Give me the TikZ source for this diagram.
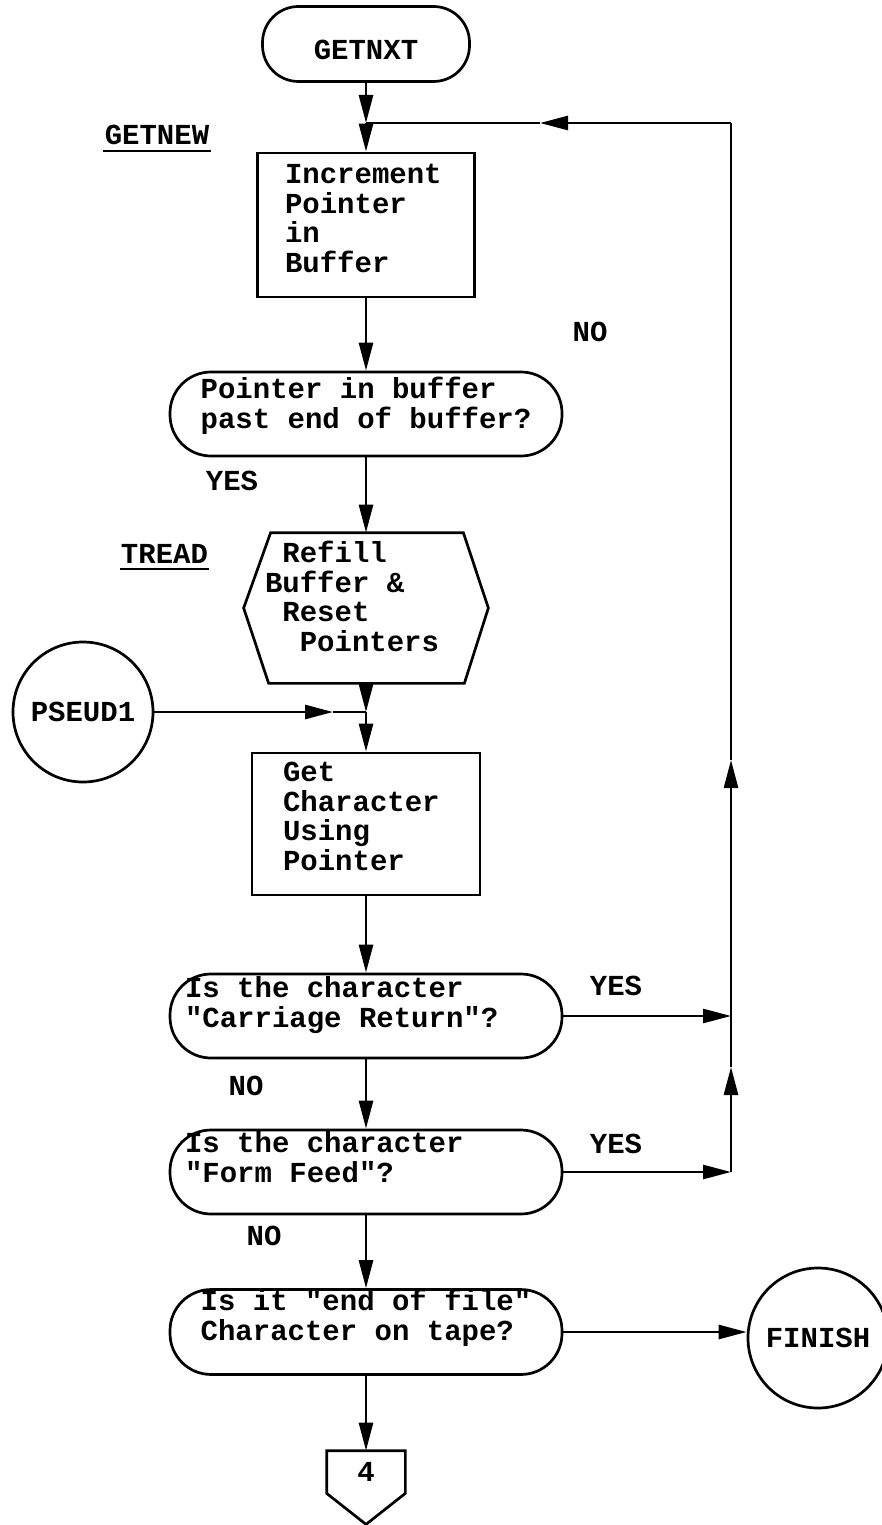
\documentclass[tikz,border=0pt]{standalone}
\usepackage{fontspec}
\newfontfamily\tw{Liberation Mono}[WordSpace={1,0,0}]
\newcommand\fixsp{\spaceskip=0pt\xspaceskip=0pt\relax}
\usetikzlibrary{arrows.meta,calc}
\begin{document}
\begin{tikzpicture}[x=1pt,y=-1pt,
  line width=2.7pt, line join=miter,
  font=\tw\fontsize{29}{29.5}\selectfont\bfseries,
  >={Triangle[width=14pt,length=28pt]},
  every node/.style={inner sep=0pt},
  term/.style={draw, rounded corners=36pt, minimum width=207pt, minimum height=75pt},
  procbox/.style={draw, align=left, minimum height=#1},
  decision/.style={draw, rounded corners=41pt, minimum width=392pt, minimum height=84pt, align=left},
  wide/.style={text width=362pt, inner xsep=15pt},
  conn/.style={draw, circle, minimum size=#1},
  uline/.style={line width=1.6pt}
]
\useasboundingbox (0,0) rectangle (882,1525);

% terminal
\node[term] (getnxt) at (366,44) {\rule{0pt}{32pt}GETNXT};
\coordinate (j1) at (366,123);

% labels
\node[anchor=base] (getnew) at (157,145) {GETNEW};
\draw[uline] ($(getnew.base west)+(0,6)$) -- ($(getnew.base east)+(0,6)$);
\node[anchor=base] (treadlbl) at (164.5,563) {TREAD};
\draw[uline] ($(treadlbl.base west)+(0,6)$) -- ($(treadlbl.base east)+(0,6)$);

% box 1
\node[procbox=144pt, text width=162pt, inner xsep=27.5pt] (inc) at (366,225)
  {Increment\\Pointer\\in\\Buffer\rule[-13pt]{0pt}{1pt}};

% decision 1
\node[decision] (d1) at (366,414)
  {Pointer in buffer\\past end of buffer?\rule[-22pt]{0pt}{1pt}};
\node (no1) at (590,332) {NO};
\node (yes1) at (232,481) {YES};

% hexagon
\node[minimum width=242pt, minimum height=148pt, text width=202pt, inner xsep=20pt, align=left] (hex) at (366,608)
  {\fixsp\hspace*{17.4pt}Refill\\Buffer \&\\\hspace*{17.4pt}Reset\\\hspace*{34.8pt}Pointers\rule[-23pt]{0pt}{1pt}};
\draw ($(hex.north west)+(27,0)$) -- ($(hex.north east)+(-25,0)$) -- (hex.east)
  -- ($(hex.south east)+(-24,0)$) -- ($(hex.south west)+(25,0)$) -- (hex.west) -- cycle;

% PSEUD1
\node[conn=140pt] (pseud) at (83,712) {PSEUD1};
\coordinate (j2) at (366,712);
\coordinate (a4) at (333,712);

% box 2
\node[procbox=142pt, text width=166pt, inner xsep=31pt] (getc) at (366,824)
  {Get\\Character\\Using\\Pointer\rule[-15pt]{0pt}{1pt}};

% decision 2
\node[decision, wide] (d2) at (366,1016)
  {\fixsp Is the character\\"Carriage Return"?\rule[-28pt]{0pt}{1pt}};
\node (yes2) at (616,986) {YES};
\node (no2) at (246,1086) {NO};

% decision 3
\node[decision, wide] (d3) at (366,1172)
  {\fixsp Is the character\\"Form Feed"?\rule[-30pt]{0pt}{1pt}};
\node (yes3) at (616,1144) {YES};
\node (no3) at (264,1236) {NO};

% decision 4
\node[decision] (d4) at (366,1332)
  {Is it "end of file"\\Character on tape?\rule[-34pt]{0pt}{1pt}};

% FINISH
\node[conn=140pt] (finish) at (818,1338) {FINISH};

% off-page connector
\node[minimum width=76pt, minimum height=40pt] (p4) at (366,1472) {4};
\draw (p4.north west) -- (p4.north east) -- (p4.south east) -- ($(p4.south)+(0,31)$) -- (p4.south west) -- cycle;

% right return line
\coordinate (r1) at (731,123);
\coordinate (a3) at (540,123);
\coordinate (a1) at (731,1067);
\coordinate (a2) at (731,760);

% connectors
\draw[->] (getnxt) -- (j1);
\draw[->] (j1) -- (inc);
\draw[->] (inc) -- (d1);
\draw[->] (d1) -- (hex.north);
\draw[->] (hex.south) -- (j2);
\draw[->] (pseud) -- (a4);
\draw (a4) -- (j2);
\draw[->] (j2) -- (getc);
\draw[->] (getc) -- (d2);
\draw[->] (d2) -- (d3);
\draw[->] (d3) -- (d4);
\draw[->] (d4) -- (p4);
\draw[->] (d4.east) -- (d4.east -| finish.west);
\draw[->] (d2.east) -- (d2.east -| r1);
\draw[->] (d3.east) -- (d3.east -| r1);
\draw[->] (d3.east -| r1) -- (a1);
\draw[->] (a1) -- (a2);
\draw (a2) -- (r1);
\draw[->] (r1) -- (a3);
\draw (a3) -- (j1);
\end{tikzpicture}
\end{document}
